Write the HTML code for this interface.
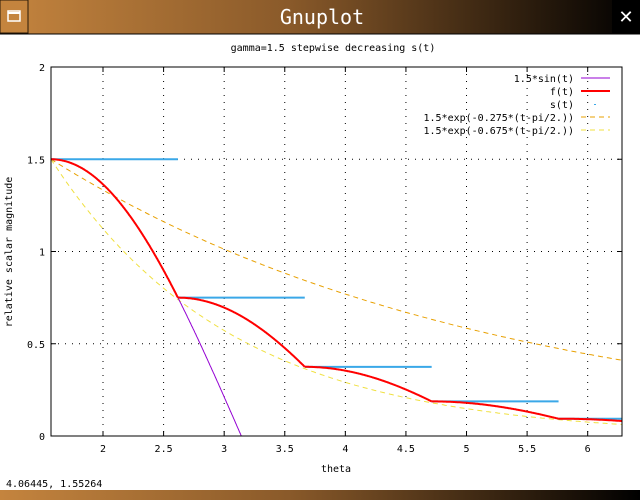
<!DOCTYPE html>
<html><head><style>
body{margin:0;width:640px;height:500px;overflow:hidden;background:#fff;font-family:"DejaVu Sans Mono","Liberation Mono",monospace;}
</style></head><body>
<svg id="s" width="640" height="500" xmlns="http://www.w3.org/2000/svg" style="position:absolute;left:0;top:0">
<defs>
<linearGradient id="g" x1="0" x2="1" y1="0" y2="0">
<stop offset="0" stop-color="#c4843e"/><stop offset="0.45" stop-color="#8a5a2a"/><stop offset="1" stop-color="#000"/>
</linearGradient>
</defs>
<rect x="0" y="0" width="640" height="34" fill="url(#g)"/>
<rect x="0" y="0" width="28" height="33" fill="#c4843e" stroke="#2a1a08"/>
<rect x="8" y="11" width="12" height="10" fill="none" stroke="#fff" stroke-width="1.5"/>
<line x1="8" y1="13" x2="20" y2="13" stroke="#fff" stroke-width="2"/>
<rect x="612" y="0" width="28" height="33" fill="#000"/>
<text x="626" y="23" fill="#fff" font-size="18" text-anchor="middle" font-family="Liberation Sans">✕</text>
<text x="322" y="24" fill="#fff" font-size="20" text-anchor="middle" font-family="DejaVu Sans Mono">Gnuplot</text>
<line x1="0" y1="34" x2="640" y2="34" stroke="#000"/>
<rect x="0" y="490" width="640" height="10" fill="url(#g)"/>
<g font-size="10" fill="#000">
<text x="333" y="51" text-anchor="middle">gamma=1.5 stepwise decreasing s(t)</text>
<text x="6" y="487">4.06445,  1.55264</text>
<text x="336" y="472" text-anchor="middle">theta</text>
<text transform="translate(12,252) rotate(-90)" text-anchor="middle">relative scalar magnitude</text>
</g>
<g id="plot"></g>
</svg>
<script>
const NS="http://www.w3.org/2000/svg",P=document.getElementById('plot');
const X0=51,X1=622,Y0=436,Y1=67,T0=Math.PI/2,T1=2*Math.PI;
const sx=t=>X0+(t-T0)*(X1-X0)/(T1-T0), sy=v=>Y0-v*(Y0-Y1)/2;
function el(n,a,txt){const e=document.createElementNS(NS,n);for(const k in a)e.setAttribute(k,a[k]);if(txt)e.textContent=txt;P.appendChild(e);return e;}
for(let t=2;t<=6;t+=0.5){const x=sx(t);el('line',{x1:x,y1:Y1,x2:x,y2:Y0,stroke:'#000','stroke-dasharray':'1,6','stroke-width':1});
el('line',{x1:x,y1:Y0,x2:x,y2:Y0-5,stroke:'#000'});el('line',{x1:x,y1:Y1,x2:x,y2:Y1+5,stroke:'#000'});
el('text',{x:x,y:452,'font-size':10,'text-anchor':'middle'},(t%1?t.toFixed(1):t.toString()));}
[0,0.5,1,1.5,2].forEach(v=>{const y=sy(v);if(v>0&&v<2)el('line',{x1:X0,y1:y,x2:X1,y2:y,stroke:'#000','stroke-dasharray':'1,6'});
el('line',{x1:X0,y1:y,x2:X0+5,y2:y,stroke:'#000'});el('line',{x1:X1,y1:y,x2:X1-5,y2:y,stroke:'#000'});
el('text',{x:45,y:y+4,'font-size':10,'text-anchor':'end'},v.toString());});
function path(f,a,b,st){let d='';for(let i=0;i<=300;i++){const t=a+(b-a)*i/300,v=f(t);d+=(i?'L':'M')+sx(t).toFixed(1)+','+sy(v).toFixed(1);}
const o={d:d,fill:'none'};for(const k in st)o[k]=st[k];el('path',o);}
path(t=>1.5*Math.exp(-0.275*(t-T0)),T0,T1,{stroke:'#e8a000','stroke-dasharray':'5,4','stroke-width':1});
path(t=>1.5*Math.exp(-0.675*(t-T0)),T0,T1,{stroke:'#f0e040','stroke-dasharray':'5,4','stroke-width':1});
path(t=>1.5*Math.sin(t),T0,Math.PI,{stroke:'#9400d3','stroke-width':1});
const w=Math.PI/3;
for(let k=0;k<5;k++){const a=T0+k*w,L=1.5/Math.pow(2,k);
el('line',{x1:sx(a),y1:sy(L),x2:sx(Math.min(a+w,T1)),y2:sy(L),stroke:'#3aa8e8','stroke-width':2});}
for(let k=0;k<5;k++){const a=T0+k*w,L=1.5/Math.pow(2,k),b=Math.min(a+w,T1);
path(t=>L*Math.sin(T0+(t-a)),a,b,{stroke:'#ff0000','stroke-width':2});}
el('rect',{x:X0,y:Y1,width:X1-X0,height:Y0-Y1,fill:'none',stroke:'#000'});
const lg=[['1.5*sin(t)',{stroke:'#9400d3'}],['f(t)',{stroke:'#f00','stroke-width':2}],['s(t)',null],['1.5*exp(-0.275*(t-pi/2.))',{stroke:'#e8a000','stroke-dasharray':'5,4'}],['1.5*exp(-0.675*(t-pi/2.))',{stroke:'#f0e040','stroke-dasharray':'5,4'}]];
lg.forEach((l,i)=>{const y=78+i*13;el('text',{x:574,y:y+4,'font-size':10,'text-anchor':'end'},l[0]);
if(l[1]){const o={x1:581,y1:y,x2:610,y2:y};for(const k in l[1])o[k]=l[1][k];el('line',o);}else el('rect',{x:594,y:y,width:2,height:1,fill:'#3aa8e8'});});
</script>
</body></html>
